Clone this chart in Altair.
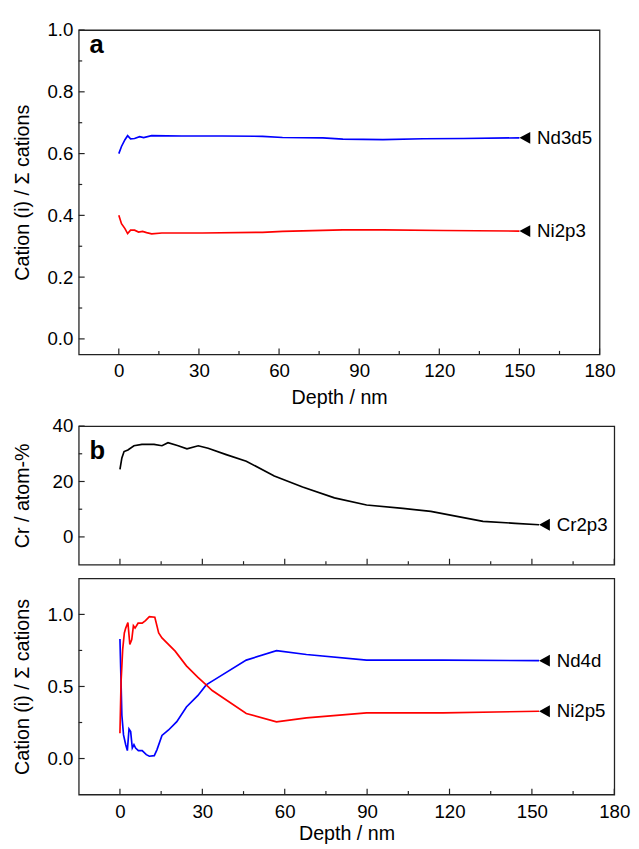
import altair as alt
import pandas as pd

FONT = "Liberation Sans"
FRAME = "#222222"

# ---------------- data ----------------
# Panel a
a_nd_depth = [0, 1.0, 2.3, 3.3, 4.4, 5.9, 7.8, 9.3, 12.3, 23.6, 38.7, 53.8, 61.3, 76.4, 83.9, 98.9, 114, 129, 150]
a_nd = [0.600, 0.623, 0.645, 0.658, 0.648, 0.649, 0.655, 0.652, 0.658, 0.657, 0.657, 0.656, 0.652, 0.651, 0.647, 0.645, 0.648, 0.649, 0.651]
a_ni_depth = [0, 1.0, 2.3, 3.3, 4.4, 5.9, 7.4, 8.9, 10.4, 12.3, 16.1, 31.2, 53.8, 61.3, 83.9, 98.9, 121.5, 150]
a_ni = [0.400, 0.373, 0.357, 0.341, 0.352, 0.352, 0.346, 0.348, 0.344, 0.340, 0.343, 0.343, 0.345, 0.348, 0.353, 0.353, 0.351, 0.349]

# Panel b (top): Cr
b_cr_depth = [0, 0.7, 1.5, 2.9, 5.1, 8.0, 12.4, 15.3, 17.5, 21.2, 24.4, 28.5, 32.1, 38.7, 46.0, 56.2, 66.5, 78.1, 89.8, 103, 113.2, 132.2, 143.9, 152.6]
b_cr = [24.4, 28.5, 30.8, 31.4, 32.9, 33.4, 33.4, 32.9, 34.0, 32.9, 31.8, 32.9, 32.0, 29.7, 27.3, 22.0, 18.0, 14.1, 11.5, 10.3, 9.2, 5.6, 4.9, 4.4]

# Panel b (bottom)
c_nd_depth = [0, 0.4, 0.7, 1.3, 2.1, 2.7, 3.3, 3.9, 4.5, 5.1, 5.7, 6.7, 8.1, 9.6, 10.7, 12.5, 13.5, 15.3, 17.7, 20.7, 24.2, 28.4, 31.4, 35.8, 46.0, 57.0, 67.9, 89.8, 117.6, 152.6]
c_nd = [0.830, 0.529, 0.300, 0.164, 0.096, 0.055, 0.205, 0.187, 0.073, 0.096, 0.073, 0.055, 0.055, 0.027, 0.016, 0.020, 0.062, 0.160, 0.198, 0.256, 0.358, 0.438, 0.511, 0.563, 0.683, 0.749, 0.722, 0.683, 0.683, 0.679]
c_ni_depth = [0, 0.4, 1.0, 1.6, 2.1, 2.9, 3.6, 4.3, 4.9, 5.5, 6.6, 8.1, 9.3, 10.7, 12.7, 14.1, 15.3, 20.1, 24.2, 28.4, 31.4, 33.6, 46.0, 57.0, 67.9, 89.8, 117.6, 152.6]
c_ni = [0.176, 0.529, 0.757, 0.871, 0.905, 0.943, 0.791, 0.825, 0.921, 0.905, 0.939, 0.939, 0.957, 0.984, 0.980, 0.871, 0.837, 0.745, 0.643, 0.563, 0.511, 0.472, 0.312, 0.255, 0.282, 0.317, 0.317, 0.328]

# ticks
x_major = [0, 30, 60, 90, 120, 150, 180]
x_minor = [15, 45, 75, 105, 135, 165]
a_y_major = [0.0, 0.2, 0.4, 0.6, 0.8, 1.0]
a_y_minor = [0.1, 0.3, 0.5, 0.7, 0.9]
b_y_major = [0, 20, 40]
b_y_minor = [10, 30]
c_y_major = [0.0, 0.5, 1.0]
c_y_minor = [0.25, 0.75]

X_DOMAIN = [-15, 180]
TRI = "M0,0L1,-0.55L1,0.55Z"


def panel(lines, width, height, ydomain, ymaj, ymin, yfmt, ytitle, show_x, xtitle_pad,
          letter, letter_y):
    xs = alt.Scale(domain=X_DOMAIN, nice=False, zero=False)
    ys = alt.Scale(domain=ydomain, nice=False, zero=False)
    if show_x:
        xaxis = alt.Axis(values=x_major, format="d", ticks=False, domain=False, grid=False,
                         labelFont=FONT, labelFontSize=19, labelColor="black", labelPadding=8,
                         labelFlush=False, labelOverlap=False,
                         title="Depth / nm", titleFont=FONT, titleFontSize=20,
                         titleFontWeight="normal", titleColor="black", titlePadding=xtitle_pad)
    else:
        xaxis = None
    yaxis = alt.Axis(values=ymaj, format=yfmt, ticks=False, domain=False, grid=False,
                     labelFont=FONT, labelFontSize=19, labelColor="black", labelPadding=6,
                     labelOverlap=False,
                     title=ytitle, titleFont=FONT, titleFontSize=20, titleFontWeight="normal",
                     titleColor="black", titleX=-51, titleBaseline="alphabetic")

    X = alt.X("depth:Q", scale=xs, axis=xaxis)
    Y = alt.Y("v:Q", scale=ys, axis=yaxis)

    layers = []
    for depth, vals, color, name in lines:
        df = pd.DataFrame({"depth": depth, "v": vals})
        layers.append(alt.Chart(df).mark_line(color=color, strokeWidth=1.7).encode(x=X, y=Y))
        end = df.tail(1)
        layers.append(alt.Chart(end).mark_point(shape=TRI, filled=True, color="black",
                                                 size=484, opacity=1).encode(x=X, y=Y))
        lab = end.assign(name=name)
        layers.append(alt.Chart(lab).mark_text(align="left", baseline="middle", dx=18,
                                               font=FONT, fontSize=19, color="black")
                      .encode(x=X, y=Y, text="name:N"))

    rule = dict(color=FRAME, strokeWidth=1.2)
    for vals, ln in ((x_major, 6), (x_minor, 3.5)):
        layers.append(alt.Chart(pd.DataFrame({"depth": vals})).mark_rule(**rule)
                      .encode(x=X, y=alt.value(height), y2=alt.value(height - ln)))
    for vals, ln in ((ymaj, 6), (ymin, 3.5)):
        layers.append(alt.Chart(pd.DataFrame({"v": vals})).mark_rule(**rule)
                      .encode(y=Y, x=alt.value(0), x2=alt.value(ln)))

    if letter:
        layers.append(alt.Chart(pd.DataFrame({"t": [letter]})).mark_text(
            align="left", baseline="alphabetic", font=FONT, fontSize=26, fontWeight="bold",
            color="black").encode(x=alt.value(11), y=alt.value(letter_y), text="t:N"))

    return alt.layer(*layers).properties(width=width, height=height)


pa = panel([(a_nd_depth, a_nd, "#0000ff", "Nd3d5"), (a_ni_depth, a_ni, "#ff0000", "Ni2p3")],
           530, 330, [-0.05, 1.0], a_y_major, a_y_minor, ".1f",
           "Cation (i) / \u03a3 cations", True, 7, "a", 23)
pb = panel([(b_cr_depth, b_cr, "black", "Cr2p3")],
           545, 141, [-10, 40], b_y_major, b_y_minor, "d",
           "Cr / atom-%", False, 0, "b", 34)
pc = panel([(c_nd_depth, c_nd, "#0000ff", "Nd4d"), (c_ni_depth, c_ni, "#ff0000", "Ni2p5")],
           545, 220, [-0.25, 1.25], c_y_major, c_y_minor, ".1f",
           "Cation (i) / \u03a3 cations", True, 3, "", 30)

chart = alt.vconcat(pa, alt.vconcat(pb, pc, spacing=11), spacing=8).properties(
    padding={"left": 4, "top": 5, "right": 0, "bottom": 0}
).configure_view(stroke=FRAME, strokeWidth=1.3)

chart.save("out.html", embed_options={"renderer": "svg", "actions": False})
